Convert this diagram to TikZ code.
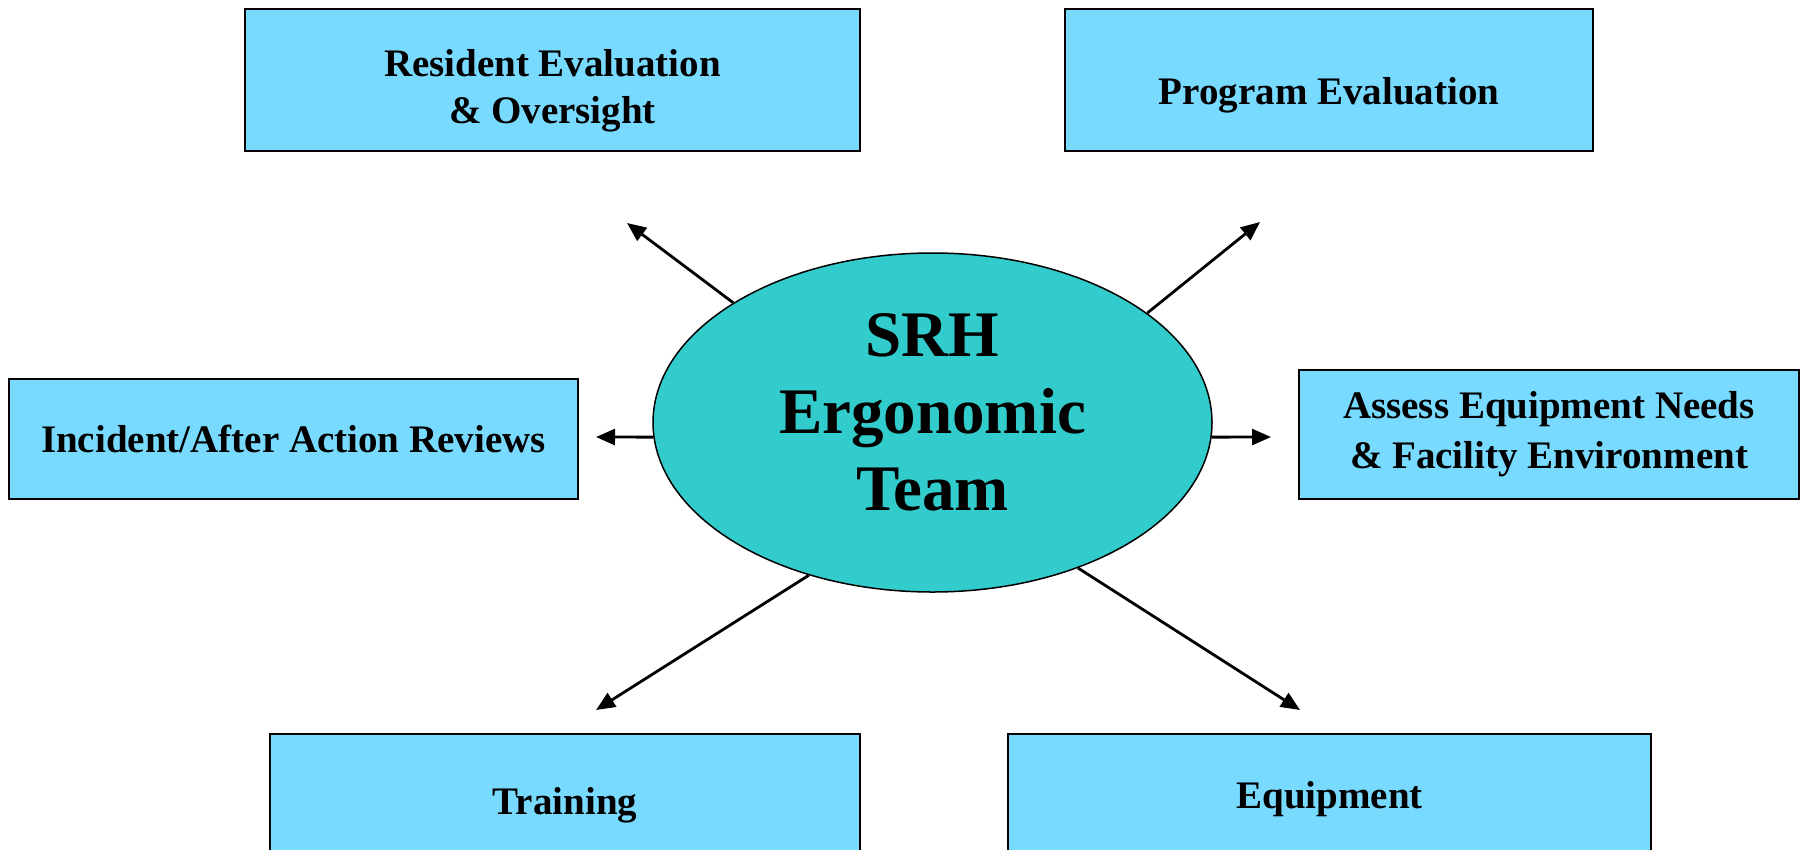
\documentclass[tikz,border=0pt]{standalone}
\usepackage{fontspec}
\setmainfont{Liberation Serif}
\usetikzlibrary{arrows.meta,shapes.geometric}
\definecolor{boxblue}{RGB}{121,218,255}
\definecolor{teamteal}{RGB}{51,204,204}
\begin{document}
\begin{tikzpicture}[x=1pt,y=-1pt,
  box/.style={draw, line width=2pt, fill=boxblue, rectangle, align=center,
    font=\fontsize{39}{47}\selectfont\bfseries},
  team/.style={draw, line width=1.5pt, fill=teamteal, ellipse, align=center,
    inner sep=0pt, font=\fontsize{65}{77}\selectfont\bfseries},
  spoke/.style={line width=2.8pt, -{Triangle[length=19pt,width=16pt]}}]
\useasboundingbox (0,0) rectangle (1803,849);
%Shape: Rectangle [resident]
\node [box, minimum width=615pt, minimum height=142pt] (resident) at (552.5,80) {\rule{0pt}{49pt}Resident Evaluation\\\& Oversight};
%Shape: Rectangle [program]
\node [box, minimum width=528pt, minimum height=142pt, text height=57pt, text depth=9pt] (program) at (1329,80) {Program Evaluation};
%Shape: Rectangle [incident]
\node [box, minimum width=569pt, minimum height=120pt] (incident) at (293.5,439) {Incident/After Action Reviews};
%Shape: Rectangle [assess]
\node [box, minimum width=500pt, minimum height=129pt] (assess) at (1549,434.5) {Assess Equipment Needs\\[3pt]\& Facility Environment};
%Shape: Rectangle [training]
\node [box, minimum width=590pt, minimum height=142pt] (training) at (565,805) {Training};
%Shape: Rectangle [equipment]
\node [box, minimum width=643pt, minimum height=130pt] (equipment) at (1329.5,799) {Equipment};
%Shape: Ellipse [team]
\node [team, minimum width=559pt, minimum height=339pt] (srh) at (932.5,422.5) {SRH\\Ergonomic\\Team\rule[-22pt]{0pt}{22pt}};

% arrow ends
\coordinate (tipNW) at (627,223);
\coordinate (tipNE) at (1260,222);
\coordinate (tipW) at (596,437);
\coordinate (tipE) at (1271,437);
\coordinate (tipSW) at (596,710);
\coordinate (tipSE) at (1300,710);

%Straight Lines
\draw [spoke] (srh.149.75) -- (tipNW);
\draw [spoke] (srh.27.3) -- (tipNE);
\draw [spoke] (srh.183) -- (tipW);
\draw [spoke] (srh.357) -- (tipE);
\draw [spoke] (srh.231.1) -- (tipSW);
\draw [spoke] (srh.315) -- (tipSE);
\end{tikzpicture}
\end{document}
